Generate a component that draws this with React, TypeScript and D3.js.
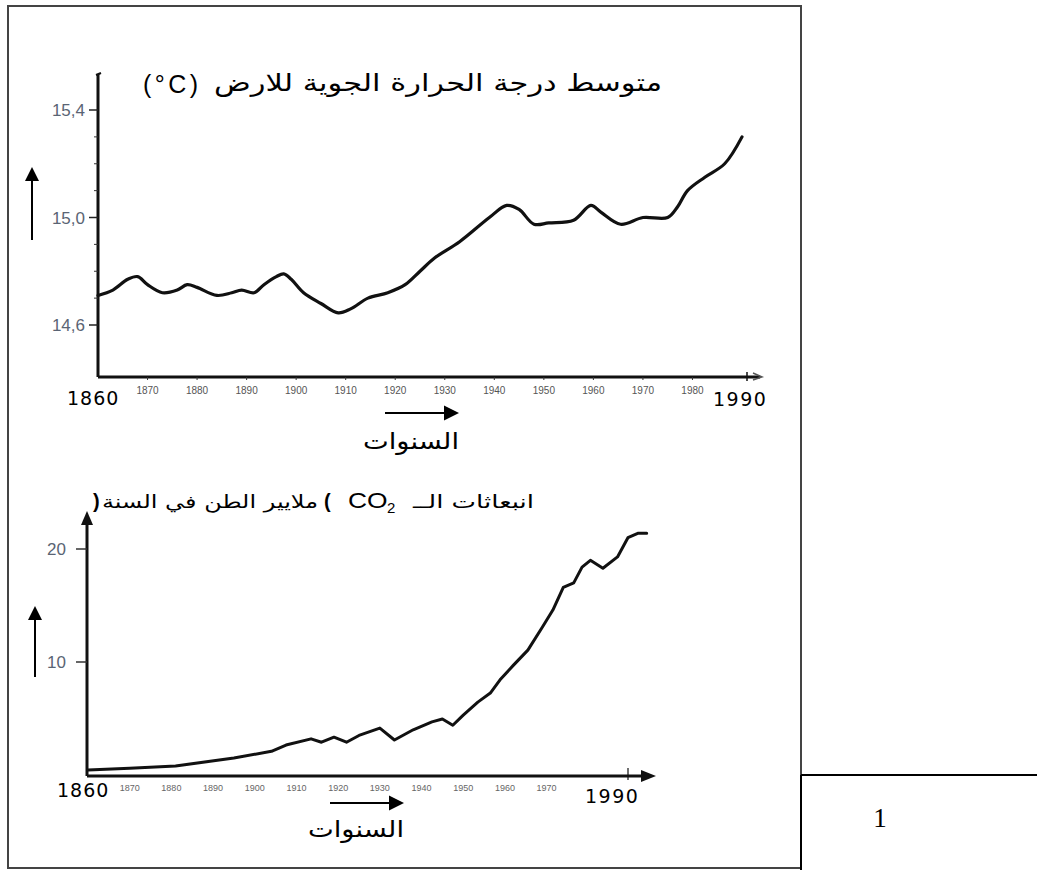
import React from 'react';
import * as d3 from 'd3';

// average earth temperature (°C)
const tempYears = [1860, 1863, 1866, 1868, 1870, 1873, 1876, 1878, 1880, 1884, 1887, 1889, 1891.5, 1893.5, 1896, 1897.5, 1899, 1901.5, 1905, 1908.5, 1911, 1914.5, 1918.5, 1922, 1925, 1928, 1933, 1939, 1942.5, 1945, 1948, 1951, 1956, 1959.5, 1961.5, 1965.5, 1970, 1975, 1977, 1979, 1982.5, 1986.5, 1990];
const tempValues = [14.71, 14.73, 14.77, 14.78, 14.75, 14.72, 14.73, 14.75, 14.74, 14.71, 14.72, 14.73, 14.72, 14.75, 14.78, 14.79, 14.77, 14.72, 14.68, 14.645, 14.66, 14.7, 14.72, 14.75, 14.8, 14.85, 14.91, 15.0, 15.045, 15.03, 14.975, 14.98, 14.99, 15.045, 15.02, 14.975, 15.0, 15.0, 15.04, 15.1, 15.15, 15.2, 15.3];

// CO2 emissions (billion tonnes / year)
const co2Years = [1860, 1870, 1881, 1895, 1904, 1907.5, 1913.5, 1916, 1919, 1922, 1925, 1930, 1933.5, 1938, 1942.5, 1945, 1947.5, 1950, 1953.5, 1956.5, 1959, 1962, 1965.5, 1969, 1971.5, 1974, 1976.5, 1978.5, 1980.5, 1983.5, 1987, 1989.5, 1992, 1994];
const co2Values = [0.45, 0.6, 0.8, 1.5, 2.1, 2.65, 3.2, 2.9, 3.35, 2.9, 3.5, 4.15, 3.1, 4.0, 4.7, 4.95, 4.4, 5.3, 6.45, 7.25, 8.5, 9.7, 11.05, 13.1, 14.6, 16.6, 17.0, 18.4, 19.0, 18.3, 19.3, 21.0, 21.4, 21.4];

const tempTicks = [15.4, 15.0, 14.6];
const tempMinor = [15.3, 15.2, 15.1, 14.9, 14.8, 14.7];
const co2Ticks = [20, 10];
const topDecades = [1870, 1880, 1890, 1900, 1910, 1920, 1930, 1940, 1950, 1960, 1970, 1980];
const bottomDecades = [1870, 1880, 1890, 1900, 1910, 1920, 1930, 1940, 1950, 1960, 1970];

const tempTitle = 'متوسط  درجة الحرارة الجوية للارض';
const tempUnit = '(°C)';
const co2TitleA = 'انبعاثات الــ';
const co2TitleB = 'ملايير الطن في السنة';
const yearsLabel = 'السنوات';

const ARABIC = '"DejaVu Sans", sans-serif';
const SANS = '"Liberation Sans", Arial, sans-serif';
const DIGITS = '"DejaVu Sans", sans-serif';

const Arrow: React.FC<{ x1: number; y1: number; x2: number; y2: number; head?: number; w?: number }> = ({ x1, y1, x2, y2, head = 13, w = 2 }) => {
  const a = Math.atan2(y2 - y1, x2 - x1);
  const bx = x2 - head * Math.cos(a);
  const by = y2 - head * Math.sin(a);
  const hw = head * 0.5;
  const px = -Math.sin(a) * hw;
  const py = Math.cos(a) * hw;
  return (
    <g>
      <line x1={x1} y1={y1} x2={bx} y2={by} stroke="#000" strokeWidth={w} />
      <polygon points={`${x2},${y2} ${bx + px},${by + py} ${bx - px},${by - py}`} fill="#000" />
    </g>
  );
};

const App: React.FC = () => {
  // upper chart
  const xT = d3.scaleLinear().domain([1860, 1990]).range([98, 742]);
  const yT = d3.scaleLinear().domain([14.6, 15.4]).range([325, 110]);
  const tempData = tempYears.map((y, i) => [y, tempValues[i]] as [number, number]);
  const tempLine = d3.line<[number, number]>()
    .x(d => xT(d[0]))
    .y(d => yT(d[1]))
    .curve(d3.curveCatmullRom.alpha(0.5));

  // lower chart
  const xC = d3.scaleLinear().domain([1860, 1990]).range([88, 630]);
  const yC = d3.scaleLinear().domain([0, 20]).range([775, 549]);
  const co2Data = co2Years.map((y, i) => [y, co2Values[i]] as [number, number]);
  const co2Line = d3.line<[number, number]>()
    .x(d => xC(d[0]))
    .y(d => yC(d[1]));

  const tAxisY = 377;
  const cAxisY = 776;

  return (
    <svg width={1037} height={870} style={{ position: 'absolute', left: 0, top: 0, background: '#fff' }}>
      {/* page frame */}
      <rect x={8} y={6} width={793} height={862} fill="none" stroke="#444" strokeWidth={2} />
      <line x1={801} y1={775} x2={1037} y2={775} stroke="#000" strokeWidth={2} />
      <line x1={801} y1={775} x2={801} y2={870} stroke="#000" strokeWidth={2} />
      <text x={880} y={827} fontFamily='"Liberation Serif", serif' fontSize={27} textAnchor="middle">1</text>

      {/* ===== upper chart ===== */}
      <text x={143} y={93} fontFamily={SANS} fontSize={25} textLength={55} lengthAdjust="spacing">{tempUnit}</text>
      <text x={662} y={91} fontFamily={ARABIC} fontSize={24} textAnchor="end" textLength={448} lengthAdjust="spacingAndGlyphs">
        {tempTitle}
      </text>

      <line x1={98} y1={74} x2={98} y2={tAxisY} stroke="#111" strokeWidth={3} />
      <line x1={96} y1={75} x2={101} y2={73} stroke="#111" strokeWidth={2} />
      <line x1={98} y1={tAxisY} x2={760} y2={tAxisY} stroke="#111" strokeWidth={3} />
      <path d={`M753,${tAxisY - 4} L762,${tAxisY} L753,${tAxisY + 3}`} fill="none" stroke="#555" strokeWidth={1.5} />
      <line x1={747} y1={tAxisY - 5} x2={747} y2={tAxisY + 4} stroke="#111" strokeWidth={1.5} />

      {tempTicks.map(t => (
        <g key={t}>
          <line x1={89} y1={yT(t)} x2={98} y2={yT(t)} stroke="#222" strokeWidth={1.5} />
          <text x={85} y={yT(t) + 6} fontFamily={SANS} fontSize={17} fill="#5a6474" textAnchor="end">
            {d3.format('.1f')(t).replace('.', ',')}
          </text>
        </g>
      ))}
      {tempMinor.map(t => (
        <line key={t} x1={94} y1={yT(t)} x2={98} y2={yT(t)} stroke="#333" strokeWidth={1} />
      ))}
      {topDecades.map(d => (
        <g key={d}>
          <line x1={xT(d)} y1={tAxisY} x2={xT(d)} y2={tAxisY + 3} stroke="#333" strokeWidth={1} />
          <text x={xT(d)} y={tAxisY + 17} fontFamily={SANS} fontSize={10} fill="#555" textAnchor="middle">{d}</text>
        </g>
      ))}
      <text x={67} y={405} fontFamily={DIGITS} fontSize={19} letterSpacing={1}>1860</text>
      <text x={713} y={406} fontFamily={DIGITS} fontSize={19} letterSpacing={1.5}>1990</text>

      <path d={tempLine(tempData) || ''} fill="none" stroke="#111" strokeWidth={3.2} strokeLinejoin="round" strokeLinecap="round" />

      <Arrow x1={32} y1={240} x2={32} y2={167} head={14} />
      <Arrow x1={385} y1={413} x2={459} y2={413} head={15} />
      <text x={459} y={449} fontFamily={ARABIC} fontSize={23} textAnchor="end" textLength={96} lengthAdjust="spacingAndGlyphs">{yearsLabel}</text>

      {/* ===== lower chart ===== */}
      <text x={534} y={508} fontFamily={ARABIC} fontSize={18} textAnchor="end" textLength={121} lengthAdjust="spacingAndGlyphs">{co2TitleA}</text>
      <text transform="translate(348,508) scale(1.2,1)" fontFamily={SANS} fontSize={22}>CO</text>
      <text x={387} y={513} fontFamily={SANS} fontSize={15}>2</text>
      <text x={93} y={508} fontFamily={SANS} fontSize={20} fontWeight="bold">)</text>
      <text x={102} y={508} fontFamily={ARABIC} fontSize={18} textLength={216} lengthAdjust="spacingAndGlyphs">{co2TitleB}</text>
      <text x={324} y={508} fontFamily={SANS} fontSize={20} fontWeight="bold">(</text>

      <line x1={87} y1={cAxisY} x2={87} y2={522} stroke="#111" strokeWidth={3} />
      <polygon points={`87,511 81,525 93,525`} fill="#111" />
      <line x1={87} y1={cAxisY} x2={642} y2={cAxisY} stroke="#111" strokeWidth={3} />
      <polygon points={`656,${cAxisY} 641,${cAxisY - 6} 641,${cAxisY + 6}`} fill="#111" />
      <line x1={628} y1={cAxisY - 8} x2={628} y2={cAxisY + 4} stroke="#111" strokeWidth={1.2} />
      {co2Ticks.map(t => (
        <g key={t}>
          <line x1={76} y1={yC(t)} x2={87} y2={yC(t)} stroke="#333" strokeWidth={1.5} />
          <text x={66} y={yC(t) + 6} fontFamily={SANS} fontSize={17} fill="#5a6474" textAnchor="end">{t}</text>
        </g>
      ))}
      {bottomDecades.map(d => (
        <text key={d} x={xC(d)} y={cAxisY + 15} fontFamily={SANS} fontSize={9} fill="#666" textAnchor="middle">{d}</text>
      ))}
      <text x={57} y={797} fontFamily={DIGITS} fontSize={19} letterSpacing={1}>1860</text>
      <text x={585} y={803} fontFamily={DIGITS} fontSize={19} letterSpacing={1.5}>1990</text>

      <path d={co2Line(co2Data) || ''} fill="none" stroke="#111" strokeWidth={3} strokeLinejoin="round" strokeLinecap="round" />

      <Arrow x1={35} y1={677} x2={35} y2={606} head={14} />
      <Arrow x1={330} y1={803} x2={404} y2={803} head={15} />
      <text x={404} y={837} fontFamily={ARABIC} fontSize={23} textAnchor="end" textLength={96} lengthAdjust="spacingAndGlyphs">{yearsLabel}</text>
    </svg>
  );
};

export default App;
